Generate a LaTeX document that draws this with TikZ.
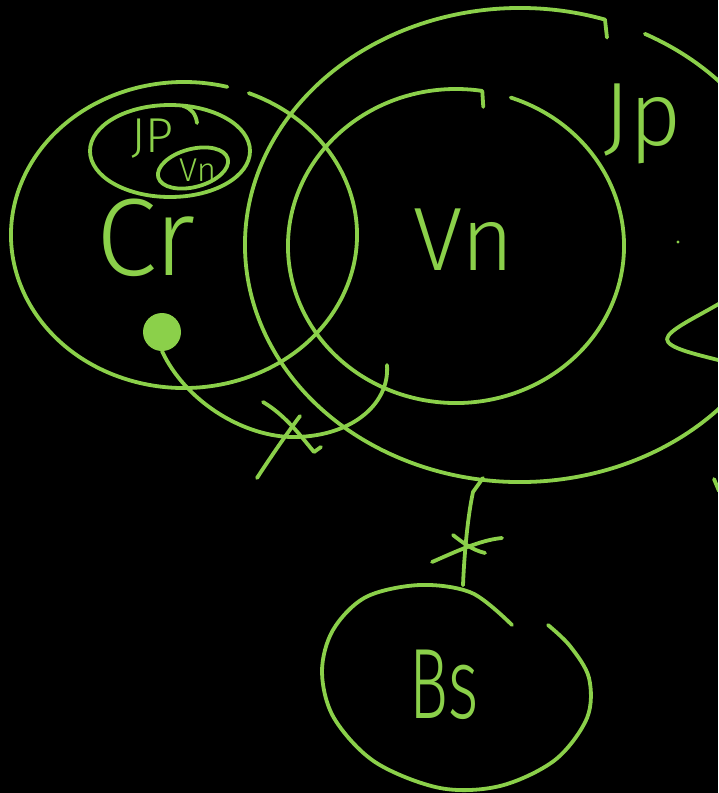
\documentclass[tikz,border=0pt]{standalone}
\usepackage{fontspec}
\usetikzlibrary{calc,positioning,shapes.geometric}
\IfFontExistsTF{Fira Sans Light}{\newfontfamily\handfont{Fira Sans Light}}{\newfontfamily\handfont{Fira Sans}}
\definecolor{Chalk}{HTML}{8BD04A}
\definecolor{Board}{HTML}{000000}

\begin{document}
\begin{tikzpicture}[x=1pt,y=-1pt,
    stroke/.style={draw=Chalk,line width=3.8pt,line cap=round,line join=round},
    region/.style={ellipse,inner sep=0pt},
    ring/.style={region,stroke},
    tag/.style={text=Chalk,inner sep=0pt,anchor=base west}]
  \path[use as bounding box,fill=Board] (0,0) rectangle (718,793);
  \clip (0,0) rectangle (718,793);

  % regions
  \node[region,minimum width=346,minimum height=306] (cr) at (184,235) {};
  \node[region,minimum width=336,minimum height=314] (vn) at (456,246) {};
  \node[region,minimum width=550,minimum height=474] (jp) at (520,245) {};
  \node[region,minimum width=270,minimum height=205] (bs) at (457,688) {};
  \node[ring,minimum width=160,minimum height=92] (jpSmall) at (170,151) {};
  \node[ring,minimum width=72,minimum height=38,rotate=15] (vnSmall) at (193,168) {};
  \node[circle,fill=Chalk,minimum size=38,inner sep=0pt] (dot) at (162,332) {};

  \draw[stroke] (cr.center) ++(-68:173 and 153)
    arc[start angle=-68,end angle=284.5,x radius=173,y radius=153];
  \draw[stroke] (vn.center) ++(-71:168 and 157)
    arc[start angle=-71,end angle=279,x radius=168,y radius=157] -- ++(1,16);
  \draw[stroke] (jp.center) ++(-63:275 and 237)
    arc[start angle=-63,end angle=288,x radius=275,y radius=237] -- ++(2,18);
  \draw[stroke] plot[smooth,tension=0.55] coordinates {
    (512,625) (472,593) (420,585) (366,597) (333,630) (322,672) (334,718)
    (375,762) (440,788) (500,786) (555,760) (587,718) (589,678) (570,646)
    (548,625)};
  \draw[stroke] (183,106) .. controls (191,108) and (196,114) .. (197,123);

  % labels
  \node[tag,font=\handfont\fontsize{110}{110}\selectfont] (crTxt) at (96,275) {Cr};
  \node[tag,font=\handfont\fontsize{90}{90}\selectfont] (vnTxt) at (413,270) {Vn};
  \node[tag,font=\handfont\fontsize{90}{90}\selectfont] (jpTxt) at (603,145) {Jp};
  \node[tag,font=\handfont\fontsize{100}{100}\selectfont] (bsTxt) at (409,718) {\scalebox{0.65}[1]{Bs}};
  \node[tag,font=\handfont\fontsize{49}{49}\selectfont] (jpSmallTxt) at (131,152) {JP};
  \node[tag,font=\handfont\fontsize{33}{33}\selectfont] (vnSmallTxt) at (179,181) {Vn};

  % links, each crossed out
  \coordinate (lnkEnd) at (387,365);
  \coordinate (jpFoot) at (483,478);
  \draw[stroke] (dot.south) .. controls (185,400) and (240,435) .. (290,437)
    .. controls (350,438) and (390,405) .. (lnkEnd);
  \draw[stroke] (257,478) .. controls (272,455) and (288,432) .. (300,416);
  \draw[stroke] (263,402) .. controls (285,415) and (300,435) .. (314,452) -- (321,447);
  \draw[stroke] (jpFoot) -- (473,492) .. controls (467,520) and (464,560) .. ([xshift=6]bs.north);
  \draw[stroke] (432,562) .. controls (455,552) and (480,540) .. (502,538);
  \draw[stroke] (453,535) .. controls (462,542) and (472,550) .. (485,553);

  % edge marks on the right
  \draw[stroke] (722,302) .. controls (695,318) and (668,330) .. (667,339)
    .. controls (667,348) and (695,354) .. (722,361);
  \draw[stroke] (714,479) -- (719,491);
  \fill[Chalk] (678,242) circle[radius=1.6];
\end{tikzpicture}
\end{document}
